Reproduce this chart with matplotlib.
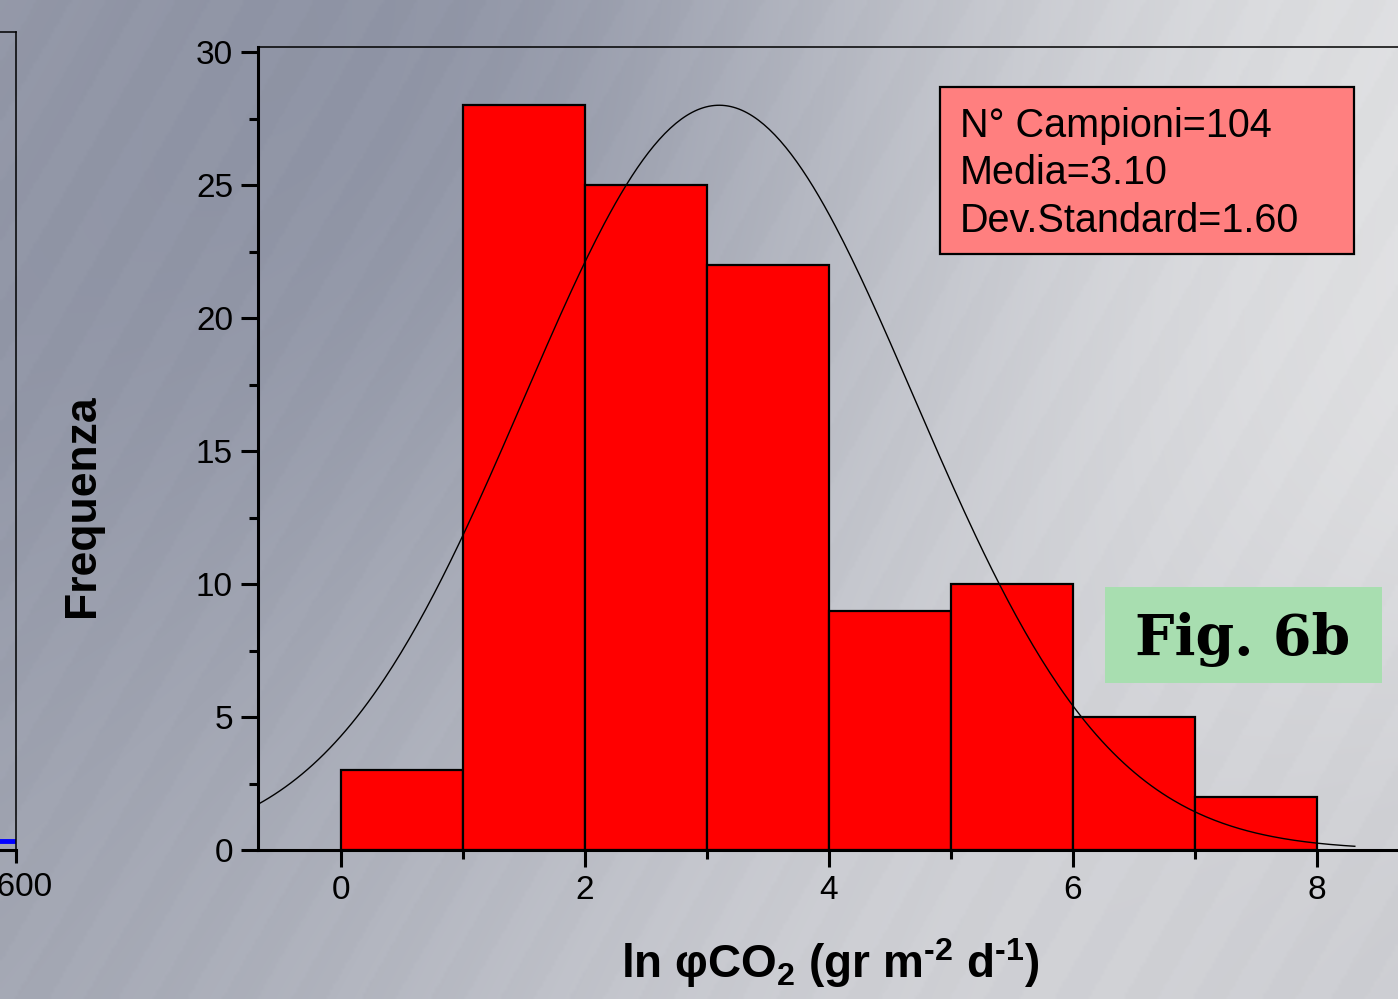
import numpy as np
import matplotlib
matplotlib.use("Agg")
import matplotlib.pyplot as plt
from matplotlib.patches import Rectangle
from matplotlib.ticker import MultipleLocator, FixedLocator

plt.rcParams['font.family'] = ['Liberation Sans', 'DejaVu Sans']
plt.rcParams['mathtext.fontset'] = 'custom'
plt.rcParams['mathtext.rm'] = 'Liberation Sans:bold'
plt.rcParams['mathtext.it'] = 'Liberation Sans:bold'
plt.rcParams['mathtext.bf'] = 'Liberation Sans:bold'

# ---------------- data ----------------
bin_left = [0, 1, 2, 3, 4, 5, 6, 7]
counts = [3, 28, 25, 22, 9, 10, 5, 2]
x_ticks = [0, 2, 4, 6, 8]
y_ticks = [0, 5, 10, 15, 20, 25, 30]
fit_mean = 3.10
fit_sd = 1.60
fit_peak = 28.0
fit_range = (-0.68, 8.31)
stats_lines = ["N° Campioni=104", "Media=3.10", "Dev.Standard=1.60"]
fig_tag = "Fig. 6b"
x_label = r"ln φCO$_2$ (gr m$^{‐2}$ d$^{‐1}$)"
y_label = "Frequenza"

W, H = 1398, 999
fig = plt.figure(figsize=(W / 100, H / 100), dpi=100)


def fx(p):
    return p / W


def fy(p):
    return 1 - p / H


# ---------------- background ----------------
anchors = [
    (0, 0, "#9a9eac"), (200, 0, "#959aa9"), (350, 120, "#7e8499"),
    (80, 500, "#8b90a2"), (30, 900, "#a1a5b1"), (400, 960, "#b9bcc5"),
    (700, 960, "#d6d6da"), (1050, 620, "#d6d7db"), (1300, 40, "#dfe0e2"),
    (1350, 330, "#e6e6e7"), (1398, 990, "#c8c9ce"), (850, 100, "#b3b6c0"),
    (600, 550, "#abafba"), (1000, 980, "#d2d3d7"), (300, 700, "#a0a4b1"),
]
yy, xx = np.mgrid[0:H:3, 0:W:3].astype(float)
num = np.zeros(xx.shape + (3,))
den = np.zeros(xx.shape)
sig = 260.0
for ax_, ay_, c in anchors:
    rgb = np.array(matplotlib.colors.to_rgb(c))
    w = np.exp(-((xx - ax_) ** 2 + (yy - ay_) ** 2) / (2 * sig ** 2))
    num += w[..., None] * rgb
    den += w
img = num / den[..., None]
# faint diagonal stripes
phase = (xx * 0.866 + yy * 0.5) / 60.0
stripe = np.where((phase % 1.0) < 0.5, 1.0, -1.0) * 0.005
img = np.clip(img + stripe[..., None], 0, 1)
bg = fig.add_axes([0, 0, 1, 1], zorder=-10)
bg.imshow(img, aspect='auto', extent=[0, 1, 0, 1], interpolation='bilinear')
bg.set_axis_off()

# ---------------- partial left chart ----------------
ax0 = fig.add_axes([fx(-300), fy(850), 316 / W, fy(32) - fy(850)])
ax0.set_facecolor('none')
ax0.set_xlim(1000, 1600)
ax0.set_ylim(0, 100)
ax0.axhline(1.05, color='#0000ff', lw=3.5)
ax0.spines['left'].set_visible(False)
ax0.spines['top'].set_linewidth(1.1)
ax0.spines['right'].set_linewidth(1.1)
ax0.spines['bottom'].set_linewidth(2.2)
ax0.set_xticks([1600])
ax0.set_xticklabels(["1600"])
ax0.set_yticks([])
ax0.tick_params(axis='x', direction='out', length=9, width=2.2, labelsize=24, pad=7)

# ---------------- main chart ----------------
ax = fig.add_axes([fx(258), fy(850), fx(1398) - fx(258), fy(47) - fy(850)])
ax.set_facecolor('none')
ax.bar(bin_left, counts, width=1, align='edge', color='#ff0000',
       edgecolor='black', linewidth=1.6, zorder=2)
xs = np.linspace(fit_range[0], fit_range[1], 400)
ys = fit_peak * np.exp(-(xs - fit_mean) ** 2 / (2 * fit_sd ** 2))
ax.plot(xs, ys, color='black', lw=1.0, zorder=3, clip_on=False)

ax.set_xlim(-0.68, 8.664)
ax.set_ylim(0, 30.19)
ax.set_xticks(x_ticks)
ax.set_xticklabels([str(v) for v in x_ticks])
ax.xaxis.set_minor_locator(FixedLocator([1, 3, 5, 7]))
ax.set_yticks(y_ticks)
ax.set_yticklabels([str(v) for v in y_ticks])
ax.yaxis.set_minor_locator(MultipleLocator(2.5))
ax.tick_params(axis='both', which='major', direction='out', length=12,
               width=2.2, labelsize=24)
ax.tick_params(axis='both', which='minor', direction='out', length=6.5, width=2.2)
ax.tick_params(axis='x', which='major', pad=6)
ax.tick_params(axis='y', which='major', pad=6)
ax.spines['right'].set_visible(False)
ax.spines['top'].set_linewidth(1.1)
ax.spines['left'].set_linewidth(2.2)
ax.spines['bottom'].set_linewidth(2.2)
for s in ax.spines.values():
    s.set_zorder(4)

# stats box
fig.patches.append(Rectangle((fx(940), fy(254)), fx(1354) - fx(940), fy(87) - fy(254),
                             transform=fig.transFigure, facecolor='#ff7f7f',
                             edgecolor='black', linewidth=1.6, zorder=5))
for i, line in enumerate(stats_lines):
    fig.text(fx(960), fy(137 + 47.5 * i), line, fontsize=28.5, ha='left',
             va='baseline', zorder=6)

# Fig tag
fig.patches.append(Rectangle((fx(1105), fy(683)), fx(1382) - fx(1105), fy(587) - fy(683),
                             transform=fig.transFigure, facecolor='#a8deb0',
                             edgecolor='none', zorder=5))
fig.text(fx(1243), fy(655), fig_tag, fontsize=40, fontweight='heavy',
         family='DejaVu Serif', ha='center', va='baseline', zorder=6)

# axis labels
fig.text(fx(830), fy(978), x_label, fontsize=33, fontweight='bold',
         ha='center', va='baseline')
fig.text(fx(82), fy(506), y_label, fontsize=32, fontweight='bold',
         rotation=90, ha='center', va='center')

fig.savefig("out.png", dpi=100)
